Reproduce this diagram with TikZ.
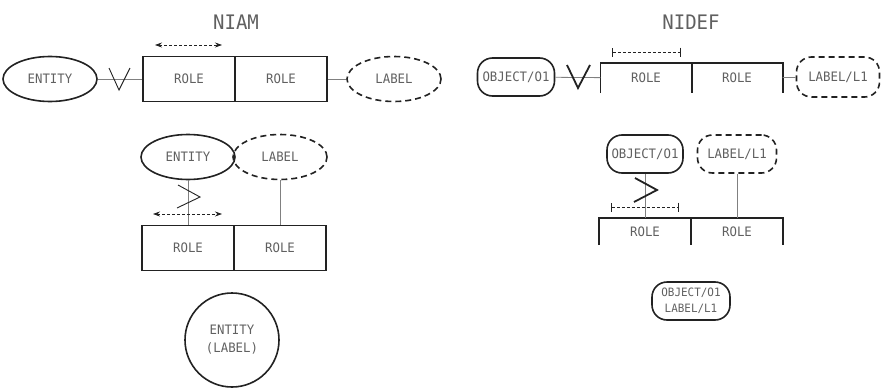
\documentclass[tikz,border=0pt]{standalone}
\usepackage{fontspec}
\usetikzlibrary{arrows.meta,positioning,shapes.geometric}
\newfontfamily\plotfont[FakeStretch=0.95]{DejaVu Sans Mono}
\definecolor{ink}{HTML}{222222}
\definecolor{txt}{HTML}{606060}
\definecolor{thin}{HTML}{808080}
\tikzset{>/.tip={Stealth[length=7pt,width=5pt]}}
\tikzset{|/.tip={Bar[width=9pt,line width=1.2pt]}}
\tikzset{
  lbl/.style={font=\plotfont\fontsize{13}{15}\selectfont,text=txt,inner sep=0pt},
  title/.style={font=\plotfont\fontsize{20}{23}\selectfont,text=txt},
  ent/.style={lbl,ellipse,draw=ink,line width=1.6pt,minimum width=94pt,minimum height=45pt},
  lab/.style={ent,dash pattern=on 6pt off 4pt},
  obj/.style={lbl,rectangle,rounded corners=15pt,draw=ink,line width=1.6pt,minimum width=77pt,minimum height=38pt},
  lobj/.style={obj,dash pattern=on 6pt off 4pt},
  rolebox/.style={lbl,rectangle,draw=ink,line width=1.6pt,minimum width=92pt,minimum height=45pt},
  rolecell/.style={lbl,rectangle,minimum width=91pt,minimum height=30pt},
  conn/.style={draw=thin,line width=0.8pt},
  span/.style={draw=ink,line width=0.7pt,densely dashed},
  sym/.style={draw=ink,line width=0.9pt},
  bsym/.style={draw=ink,line width=1.8pt},
  frame/.style={draw=ink,line width=1.6pt}
}
\begin{document}
\begin{tikzpicture}[x=1pt,y=-1pt,on grid]
  \useasboundingbox (0,0) rectangle (884,391);
  % NIAM, top row
  \node[title](niam) at (236,22) {NIAM};
  \node[ent](ent1) at (50,79) {ENTITY};
  \node[rolebox](r1) at (189,79) {ROLE};
  \node[rolebox](r2)[right=92pt of r1] {ROLE};
  \node[lab](lab1) at (394,79) {LABEL};
  \coordinate (v1) at (119,79);
  \coordinate (a1l) at (155,45);
  \coordinate (a1r) at (222,45);
  \draw[conn] (ent1) -- (r1);
  \draw[conn] (r2) -- (lab1);
  \draw[sym] (v1) ++(-10,-11) -- ++(10,22) -- ++(11,-22);
  \draw[span,<->] (a1l) -- (a1r);
  % NIAM, fact type below
  \node[ent](ent2) at (188,157) {ENTITY};
  \node[lab](lab3) at (280,157) {LABEL};
  \node[rolebox](r5) at (188,248) {ROLE};
  \node[rolebox](r6)[right=92pt of r5] {ROLE};
  \coordinate (z1) at (188,196);
  \coordinate (a2l) at (153,214);
  \coordinate (a2r) at (222,214);
  \draw[conn] (ent2) -- (r5);
  \draw[conn] (lab3) -- (r6);
  \draw[sym] (z1) ++(-10,-11) -- ++(22,12) -- ++(-23,11);
  \draw[span,<->] (a2l) -- (a2r);
  \node[lbl,circle,draw=ink,line width=1.6pt,minimum size=94pt,align=center](cir) at (232,340) {ENTITY\\[3pt](LABEL)};
  % NIDEF, top row
  \node[title](nidef) at (691,22) {NIDEF};
  \node[obj](obj1) at (516,77) {OBJECT/O1};
  \node[rolecell](r3) at (646,78) {ROLE};
  \node[rolecell](r4)[right=91pt of r3] {ROLE};
  \node[lobj,minimum width=83pt,minimum height=40pt](lab2) at (838,77) {LABEL/L1};
  \draw[frame] (r3.south west) -- (r3.north west) -- (r4.north east) -- (r4.south east);
  \draw[frame] (r3.north east) -- (r3.south east);
  \coordinate (v2) at (578,77);
  \coordinate (b1l) at (612,52);
  \coordinate (b1r) at (681,52);
  \draw[conn] (obj1) -- (r3);
  \draw[conn] (r4) -- (lab2);
  \draw[bsym] (v2) ++(-11,-12) -- ++(11,23) -- ++(12,-23);
  \draw[span,|-|] (b1l) -- (b1r);
  % NIDEF, fact type below
  \node[obj,minimum width=76pt](obj2) at (645,154) {OBJECT/O1};
  \node[lobj,minimum width=79pt](lab4) at (737,154) {LABEL/L1};
  \node[rolecell,minimum width=92pt,minimum height=27pt](r7) at (645,231.5) {ROLE};
  \node[rolecell,minimum width=92pt,minimum height=27pt](r8)[right=92pt of r7] {ROLE};
  \draw[frame] (r7.south west) -- (r7.north west) -- (r8.north east) -- (r8.south east);
  \draw[frame] (r7.north east) -- (r7.south east);
  \coordinate (z2) at (646,190);
  \coordinate (b2l) at (611,207);
  \coordinate (b2r) at (679,207);
  \draw[conn] (obj2) -- (r7);
  \draw[conn] (lab4) -- (r8);
  \draw[bsym] (z2) ++(-11,-12) -- ++(22,12) -- ++(-23,12);
  \draw[span,|-|] (b2l) -- (b2r);
  \node[obj,minimum width=78pt,align=center,font=\plotfont\fontsize{11.5}{13.5}\selectfont](obj3) at (691,301) {OBJECT/O1\\[2pt]LABEL/L1};
\end{tikzpicture}
\end{document}
